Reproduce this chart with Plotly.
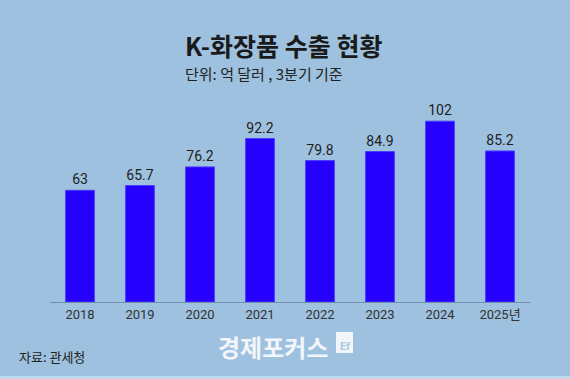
import plotly.graph_objects as go

years = ["2018", "2019", "2020", "2021", "2022", "2023", "2024", "2025년"]
exports = [63, 65.7, 76.2, 92.2, 79.8, 84.9, 102, 85.2]
value_labels = ["63", "65.7", "76.2", "92.2", "79.8", "84.9", "102", "85.2"]

W, H = 570, 379
ML, MR, MT, MB = 50, 40, 107, 77
PW, PH = W - ML - MR, H - MT - MB
BG = "#9DC1DE"
FONT = "Noto Sans CJK KR"

fig = go.Figure(go.Bar(
    x=years, y=exports, text=value_labels, textposition="outside",
    textfont=dict(size=14, color="#1e1e1e", family="Roboto, " + FONT),
    marker=dict(color="#2600FF", line=dict(color="#4A3CFF", width=1)),
    cliponaxis=False, width=0.48,
))

def px(x):
    return (x - ML) / PW

def py(y):
    return (H - MB - y) / PH

fig.update_layout(
    width=W, height=H,
    margin=dict(l=ML, r=MR, t=MT, b=MB),
    paper_bgcolor=BG, plot_bgcolor=BG,
    showlegend=False,
    xaxis=dict(showline=True, linecolor="#6F8FAF", linewidth=1, ticks="",
               tickfont=dict(size=13, color="#333333", family="Roboto, " + FONT),
               showgrid=False),
    yaxis=dict(range=[0, 110], visible=False, showgrid=False),
    font=dict(family=FONT),
)

anns = [
    dict(text="<b>K-화장품 수출 현황</b>", x=px(183), y=py(45), xanchor="left", yanchor="middle",
         font=dict(size=25, color="#1a1a1a", family=FONT)),
    dict(text="단위: 억 달러 , 3분기 기준", x=px(183), y=py(73), xanchor="left", yanchor="middle",
         font=dict(size=15, color="#222222", family=FONT)),
    dict(text="자료: 관세청", x=px(17), y=py(356), xanchor="left", yanchor="middle",
         font=dict(size=13, color="#222222", family=FONT)),
    dict(text="<b>경제포커스</b>", x=px(216), y=py(346), xanchor="left", yanchor="middle",
         font=dict(size=24, color="#F2F6FA", family=FONT)),
    dict(text="<b>Ef</b>", x=px(345), y=py(346), xanchor="center", yanchor="middle",
         font=dict(size=11, color="#A9C6E0", family="Roboto")),
]
for a in anns:
    a.update(xref="paper", yref="paper", showarrow=False)
    fig.add_annotation(**a)

fig.add_shape(type="rect", xref="paper", yref="paper",
              x0=px(336), x1=px(353), y0=py(353), y1=py(332),
              fillcolor="#F2F6FA", line=dict(width=0), layer="below")
fig.add_shape(type="rect", xref="paper", yref="paper",
              x0=px(0), x1=px(W), y0=py(H), y1=py(376),
              fillcolor="#C3DAEC", line=dict(width=0), layer="below")

fig.write_html("out.html", config={"displayModeBar": False},
               post_script="document.body.style.margin='0';document.body.style.overflow='hidden';")
